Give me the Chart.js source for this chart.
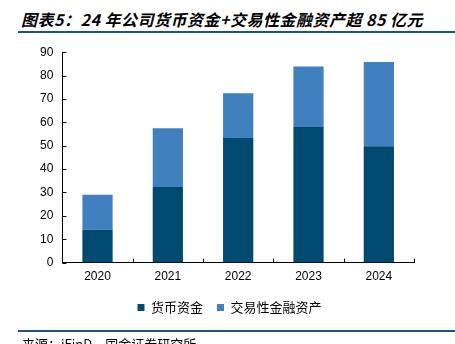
<!DOCTYPE html>
<html>
<head>
<meta charset="utf-8">
<script src="https://cdn.jsdelivr.net/npm/chart.js@4"></script>
<style>
  html, body { margin: 0; padding: 0; background: #fff; }
  #wrap { position: relative; width: 455px; height: 344px; overflow: hidden; }
  .title {
    position: absolute; left: 21px; top: 7px;
    font: italic bold 16px "Noto Sans CJK SC", sans-serif;
    letter-spacing: 0.5px; color: #000; white-space: nowrap;
  }
  .rule { position: absolute; left: 18px; right: 0; height: 2px; background: #1f5478; }
  .source {
    position: absolute; left: 22px; top: 334px;
    font: 13px "Noto Sans CJK SC", sans-serif; color: #000; white-space: nowrap;
  }
  #box { position: absolute; left: 0; top: 36px; width: 455px; height: 296px; }
</style>
</head>
<body>
<div id="wrap">
  <div class="title">图表5：24 年公司货币资金+交易性金融资产超 85 亿元</div>
  <div class="rule" style="top:31px"></div>
  <div id="box"><canvas id="chart"></canvas></div>
  <div class="rule" style="top:330px"></div>
  <div class="source">来源：iFinD，国金证券研究所</div>
</div>
<script>
const years = ['2020', '2021', '2022', '2023', '2024'];
const cash = [14.1, 32.3, 53.3, 58.0, 49.8];
const tradingAssets = [14.9, 25.2, 19.1, 25.9, 36.0];
const yTicks = [0, 10, 20, 30, 40, 50, 60, 70, 80, 90];

// short tick marks pointing into the plot area
const innerTicks = {
    id: 'innerTicks',
    afterDraw(chart) {
        const { ctx, scales: { x, y } } = chart;
        ctx.save();
        ctx.strokeStyle = '#000';
        ctx.lineWidth = 1;
        ctx.beginPath();
        y.ticks.forEach((t, i) => {
            const py = Math.round(y.getPixelForTick(i)) + 0.5;
            ctx.moveTo(x.left, py);
            ctx.lineTo(x.left + 4, py);
        });
        const step = x.getPixelForTick(1) - x.getPixelForTick(0);
        for (let i = 0; i <= years.length; i++) {
            const px = Math.round(x.getPixelForTick(0) - step / 2 + i * step) + 0.5;
            ctx.moveTo(px, y.bottom);
            ctx.lineTo(px, y.bottom - 4);
        }
        ctx.stroke();
        ctx.restore();
    }
};

// nudge the legend: a little right of centre and closer to the axis labels
const legendShift = {
    id: 'legendShift',
    afterLayout(chart) {
        const lg = chart.legend;
        lg.left += 7;
        lg.right += 7;
        lg.top -= 4;
        lg.bottom -= 4;
    }
};

new Chart(document.getElementById('chart'), {
    type: 'bar',
    data: {
        labels: years,
        datasets: [
            { label: '货币资金', data: cash, backgroundColor: '#014a6f' },
            { label: '交易性金融资产', data: tradingAssets, backgroundColor: '#4180be' }
        ]
    },
    options: {
        responsive: true, maintainAspectRatio: false, animation: false,
        layout: { padding: { top: 0, right: 41, left: 31, bottom: 4 } },
        datasets: { bar: { categoryPercentage: 1, barPercentage: 0.43 } },
        plugins: {
            tooltip: { enabled: false },
            legend: {
                position: 'bottom',
                labels: {
                    boxWidth: 7, boxHeight: 7, padding: 14, color: '#000',
                    font: { family: '"Noto Sans CJK SC"', size: 13 }
                }
            }
        },
        scales: {
            x: {
                stacked: true,
                grid: { display: false, drawTicks: false },
                border: { color: '#000' },
                ticks: { color: '#000', padding: 7, font: { family: '"Liberation Sans", Arial', size: 12 } }
            },
            y: {
                stacked: true, min: 0, max: 90,
                afterBuildTicks: s => { s.ticks = yTicks.map(v => ({ value: v })); },
                grid: { display: false, drawTicks: false },
                border: { color: '#000' },
                ticks: { color: '#000', padding: 9, font: { family: '"Liberation Sans", Arial', size: 12 } }
            }
        }
    },
    plugins: [innerTicks, legendShift]
});
</script>
</body>
</html>
